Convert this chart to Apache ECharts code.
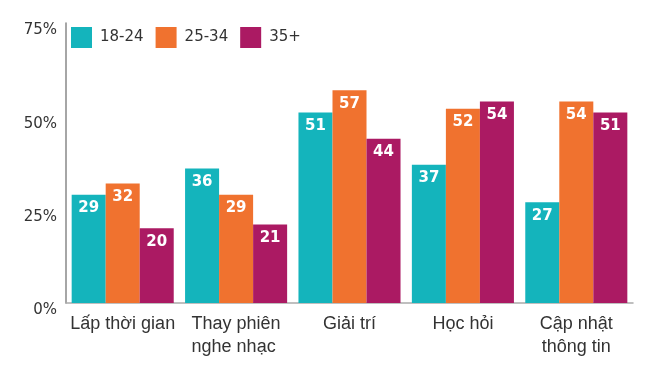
<!DOCTYPE html>
<html><head><meta charset="utf-8">
<script src="https://cdn.jsdelivr.net/npm/echarts@6/dist/echarts.min.js"></script>
<style>html,body{margin:0;padding:0;background:#fff}#c{width:663px;height:365px}</style>
</head><body><div id="c"></div>
<script>
const categories = ['Lấp thời gian', 'Thay phiên\nnghe nhạc ', 'Giải trí', 'Học hỏi', 'Cập nhật\nthông tin'];
const seriesNames = ['18-24', '25-34', '35+'];
const values1824 = [29, 36, 51, 37, 27];
const values2534 = [32, 29, 57, 52, 54];
const values35 = [20, 21, 44, 54, 51];
const yTicks = [0, 25, 50, 75];
const colors = ['#14b4bc', '#f0722f', '#ab1a63'];

const chart = echarts.init(document.getElementById('c'));
const mk = (name, data, color) => ({
  name, type: 'bar', data, barGap: '0%', barCategoryGap: '10%',
  itemStyle: { color },
  label: { show: true, position: 'insideTop', distance: 6, color: '#fff', fontWeight: 'bold', fontSize: 15, fontFamily: 'DejaVu Sans' }
});
chart.setOption({
  animation: false,
  grid: { left: 66, right: 30, top: 23, bottom: 62 },
  legend: {
    left: 66, top: 22, itemWidth: 21, itemHeight: 21, itemGap: 12,
    icon: 'rect',
    textStyle: { fontSize: 15, color: '#333', fontFamily: 'DejaVu Sans', padding: [0, 0, 0, 3] },
    data: seriesNames
  },
  xAxis: {
    type: 'category', data: categories,
    axisLine: { show: true, lineStyle: { color: '#aaa', width: 1.5 } },
    axisTick: { show: false },
    axisLabel: { interval: 0, fontSize: 18, color: '#333', fontFamily: 'Liberation Sans', margin: 10, lineHeight: 23 }
  },
  yAxis: {
    type: 'value', min: 0, max: 75, interval: 25,
    axisLine: { show: true, lineStyle: { color: '#888', width: 1.5 } },
    axisTick: { show: false },
    splitLine: { show: false },
    axisLabel: {
      fontSize: 15, color: '#333', fontFamily: 'DejaVu Sans', margin: 9,
      verticalAlign: 'top',
      formatter: v => yTicks.includes(v) ? v + '%' : ''
    }
  },
  series: [mk(seriesNames[0], values1824, colors[0]), mk(seriesNames[1], values2534, colors[1]), mk(seriesNames[2], values35, colors[2])]
});
</script></body></html>
